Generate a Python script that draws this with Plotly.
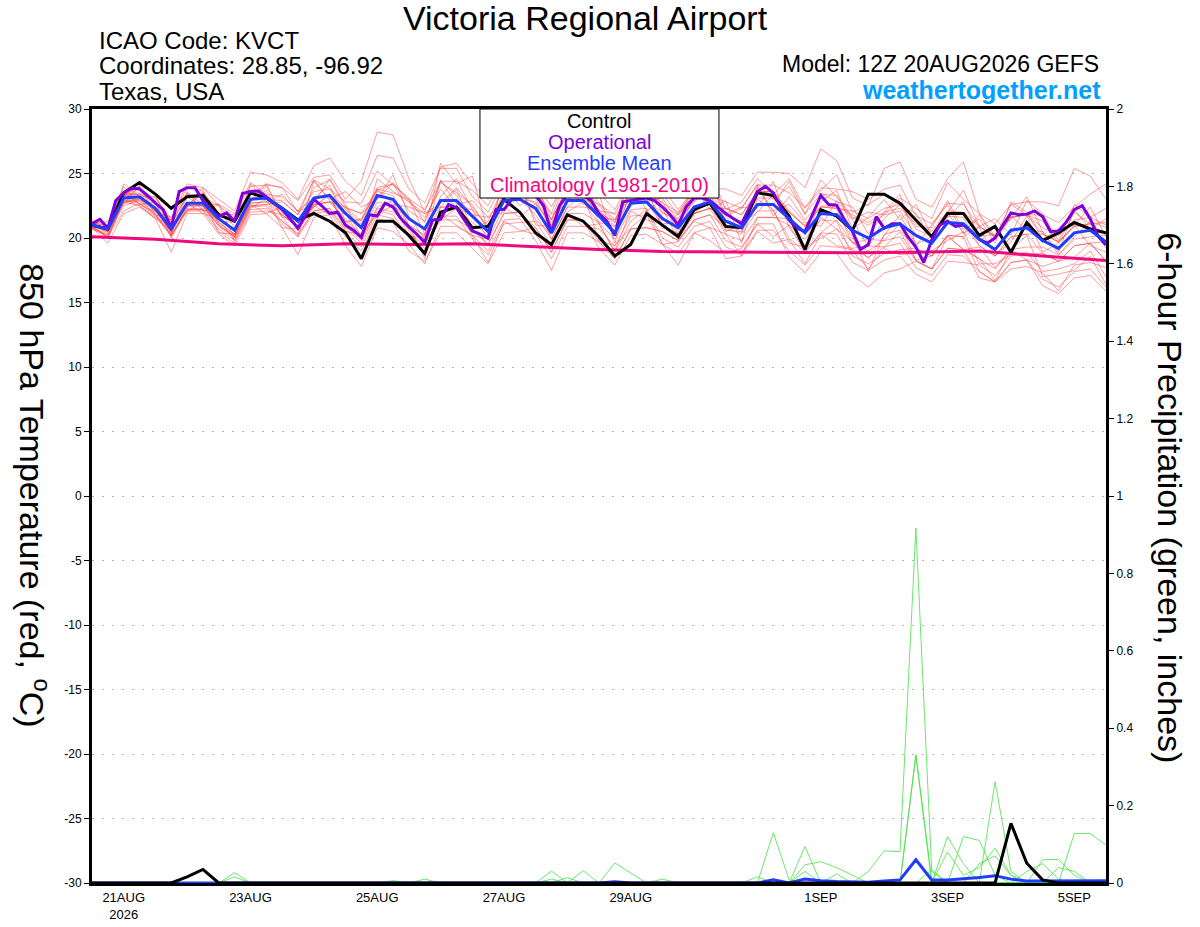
import pandas as pd
import plotly.graph_objs as go

# forecast run: GEFS 12Z 20AUG2026, 6-hourly out to 384 h (operational every 3 h)
run_start = "2026-08-20 12:00"
n_steps = 65
n_op_steps = 129
n_clim_days = 17

tick_dates = ["2026-08-21", "2026-08-23", "2026-08-25", "2026-08-27",
              "2026-08-29", "2026-09-01", "2026-09-03", "2026-09-05"]
tick_labels = ["21AUG<br>2026", "23AUG", "25AUG", "27AUG", "29AUG", "1SEP", "3SEP", "5SEP"]

temp_ticks = [-30, -25, -20, -15, -10, -5, 0, 5, 10, 15, 20, 25, 30]
temp_tick_text = ["-30", "-25", "-20", "-15", "-10", "-5", "0", "5", "10", "15", "20", "25", "30"]

# 850 hPa temperature (C)
control_t = [21.0, 20.7, 23.5, 24.3, 23.4, 22.3, 23.2, 23.3, 21.8, 21.3, 23.5, 23.1, 22.3,
             21.4, 21.9, 21.3, 20.4, 18.4, 21.3, 21.3, 20.2, 18.8, 22.0, 22.4, 20.8, 20.9,
             23.0, 22.0, 20.4, 19.5, 21.8, 21.3, 20.1, 18.6, 19.5, 21.9, 21.0, 20.1, 22.2,
             22.7, 20.9, 20.8, 23.5, 23.3, 21.7, 19.1, 22.2, 21.7, 20.6, 23.4, 23.4, 22.7,
             21.4, 20.1, 21.9, 21.9, 20.2, 20.9, 18.9, 21.2, 19.8, 20.4, 21.2, 20.7, 20.4]

operational_t = [21.1, 21.45, 20.75, 22.9, 23.5, 23.85, 23.8, 23.3, 22.7, 22.2, 20.75, 23.6, 23.9,
                 23.9, 22.9, 22.2, 21.65, 21.95, 21.3, 23.45, 23.6, 23.65, 23.2, 22.7, 22.2, 21.5,
                 20.75, 21.8, 23.0, 22.5, 21.9, 22.0, 21.0, 20.6, 20.05, 21.8, 21.7, 22.7, 22.4,
                 21.5, 20.85, 20.3, 19.65, 21.4, 21.45, 22.6, 22.35, 21.4, 20.55, 20.3, 20.0, 22.2,
                 22.2, 23.0, 23.4, 23.5, 23.3, 22.5, 20.4, 22.5, 23.3, 23.5, 23.3, 22.9, 21.9,
                 21.3, 20.2, 22.8, 22.9, 23.0, 23.1, 22.9, 22.4, 21.8, 21.0, 22.4, 23.1, 23.1,
                 22.9, 22.4, 21.9, 21.5, 21.1, 22.4, 23.6, 24.0, 23.5, 22.3, 21.4, 20.75, 20.5,
                 21.9, 23.3, 22.6, 22.55, 21.4, 20.5, 19.1, 19.5, 21.65, 20.75, 21.1, 21.1, 20.1,
                 19.3, 18.1, 19.85, 21.0, 21.3, 20.9, 21.0, 20.5, 19.9, 19.6, 20.0, 21.0, 21.95,
                 21.8, 21.85, 22.1, 21.65, 20.5, 20.55, 21.25, 22.2, 22.5, 21.5, 20.15, 19.45]

ens_mean_t = [21.0, 20.7, 23.1, 23.2, 22.3, 20.7, 22.7, 22.7, 21.5, 20.6, 23.0, 23.1, 22.3,
              21.3, 23.1, 23.3, 21.9, 20.8, 23.3, 23.0, 21.5, 20.7, 22.9, 22.9, 21.7, 20.5,
              22.9, 23.0, 22.3, 20.4, 22.9, 22.9, 21.7, 20.4, 22.7, 22.8, 21.5, 20.8, 22.4,
              22.8, 21.3, 20.8, 22.6, 22.6, 21.5, 20.4, 21.9, 21.8, 20.6, 20.0, 20.8, 21.1,
              20.2, 19.6, 21.2, 21.1, 19.9, 19.1, 20.6, 20.8, 19.8, 19.2, 20.4, 20.6, 19.7]

climatology_t = [20.1, 19.9, 19.55, 19.4, 19.55, 19.5, 19.55, 19.3, 19.1,
                 18.95, 18.9, 18.85, 18.85, 18.9, 19.0, 18.6, 18.25]

member_t = [
    [21.2, 20.9, 23.3, 23.4, 22.9, 21.1, 23.4, 23.2, 22.5, 21.6, 24.0, 24.1, 23.9, 22.9, 24.7, 24.9,
     23.0, 24.4, 28.2, 28.0, 24.6, 22.0, 25.4, 25.4, 23.2, 22.0, 24.4, 24.5, 23.3, 21.4, 23.9, 23.9,
     22.5, 21.2, 23.5, 23.6, 22.7, 22.0, 23.6, 24.0, 22.3, 21.8, 23.6, 23.6, 22.1, 21.0, 22.5, 22.4,
     21.8, 21.2, 22.0, 22.3, 21.1, 20.5, 22.1, 22.0, 20.9, 20.1, 21.6, 21.8, 20.8, 20.2, 21.4, 21.6, 21.0],
    [20.7, 20.2, 22.8, 22.9, 21.8, 20.2, 22.2, 22.2, 20.7, 19.8, 22.2, 22.3, 21.3, 20.3, 22.1, 22.3,
     20.4, 19.3, 21.8, 21.5, 20.3, 19.5, 21.7, 21.7, 19.9, 18.7, 21.1, 21.2, 21.3, 19.4, 21.9, 21.9,
     21.2, 19.9, 22.2, 22.3, 20.0, 19.3, 20.9, 21.3, 19.3, 18.8, 20.6, 20.6, 19.0, 17.9, 19.4, 19.3,
     19.1, 18.5, 19.3, 19.6, 17.7, 17.1, 18.7, 18.6, 17.4, 16.6, 18.1, 18.3, 16.8, 16.2, 17.4, 17.6, 16.2],
    [21.3, 21.0, 23.4, 23.5, 23.1, 21.5, 24.2, 23.9, 23.0, 22.1, 25.1, 24.9, 24.3, 23.0, 25.6, 26.2,
     24.4, 23.3, 26.4, 26.2, 23.8, 22.7, 25.5, 25.8, 24.2, 23.0, 25.4, 25.5, 24.3, 22.4, 24.9, 24.9,
     23.5, 22.2, 24.5, 24.6, 22.5, 21.8, 23.4, 23.8, 23.8, 23.3, 25.1, 25.1, 25.0, 23.9, 26.9, 26.0,
     23.1, 22.5, 25.4, 25.9, 23.0, 22.4, 24.6, 25.9, 21.9, 21.1, 22.6, 22.8, 22.8, 22.5, 25.4, 24.8, 23.0],
    [20.8, 19.6, 21.9, 22.4, 21.5, 18.9, 21.9, 21.9, 20.3, 19.4, 21.8, 21.9, 20.8, 18.7, 21.6, 21.8,
     19.4, 17.8, 20.8, 20.5, 19.5, 18.0, 20.9, 20.9, 20.2, 19.0, 21.4, 21.5, 19.8, 17.5, 20.4, 20.4,
     19.7, 18.4, 20.7, 20.8, 20.5, 19.8, 21.4, 21.8, 19.8, 19.3, 21.1, 21.1, 18.5, 17.3, 18.9, 18.8,
     17.1, 16.2, 17.3, 17.6, 18.2, 17.6, 19.2, 19.1, 16.9, 16.6, 17.6, 17.8, 17.3, 15.9, 17.9, 18.1, 17.7],
    [21.1, 21.3, 22.6, 24.1, 23.4, 20.2, 23.6, 22.1, 22.6, 21.9, 22.8, 24.2, 21.6, 20.1, 24.4, 23.0,
     23.6, 22.4, 23.0, 24.9, 21.7, 19.9, 24.5, 22.6, 22.9, 21.6, 22.0, 24.4, 21.0, 20.9, 24.2, 22.6,
     23.4, 19.6, 23.9, 23.9, 20.7, 21.9, 23.9, 22.2, 22.9, 19.6, 24.1, 21.7, 23.2, 21.4, 22.8, 23.7,
     20.7, 21.6, 23.0, 21.4, 22.6, 20.2, 22.0, 23.7, 20.9, 21.5, 20.2, 22.9, 21.9, 19.8, 22.6, 21.6, 22.3],
    [21.0, 20.5, 22.7, 23.0, 22.1, 20.5, 22.5, 22.5, 21.0, 20.1, 22.5, 22.6, 22.8, 21.8, 23.6, 23.8,
     22.2, 21.1, 23.6, 23.3, 21.0, 18.4, 22.4, 22.4, 22.2, 21.0, 23.4, 23.5, 23.8, 21.9, 25.2, 24.4,
     22.7, 21.4, 23.7, 23.8, 21.0, 20.3, 21.9, 22.3, 20.3, 18.6, 21.6, 21.6, 21.5, 20.4, 21.9, 21.8,
     20.1, 17.4, 20.3, 20.6, 19.2, 18.6, 20.2, 20.1, 20.9, 20.1, 21.6, 21.8, 20.3, 19.7, 20.9, 21.1, 19.2],
    [21.2, 20.9, 23.3, 23.4, 22.8, 21.2, 23.2, 23.2, 21.2, 20.3, 22.7, 22.8, 21.8, 20.8, 22.6, 22.8,
     22.4, 21.3, 23.8, 23.5, 23.0, 22.2, 24.4, 24.4, 23.7, 22.5, 24.9, 25.0, 23.3, 21.4, 23.9, 23.9,
     21.7, 20.4, 22.7, 22.8, 22.0, 21.3, 22.9, 23.3, 22.8, 22.3, 24.1, 24.1, 23.5, 22.4, 23.9, 23.8,
     23.6, 23.0, 23.8, 24.1, 21.7, 21.1, 22.7, 22.6, 20.9, 20.1, 21.6, 21.8, 21.8, 21.2, 22.4, 23.4, 24.2],
    [20.9, 20.0, 22.8, 22.5, 21.6, 20.9, 22.0, 22.9, 20.4, 20.3, 22.6, 21.9, 22.4, 20.6, 22.4, 23.4,
     20.5, 20.3, 21.9, 22.5, 20.6, 18.8, 21.8, 21.0, 20.2, 19.9, 22.4, 21.6, 22.7, 19.9, 22.4, 23.4,
     19.8, 19.4, 20.8, 21.8, 19.5, 17.9, 20.4, 19.8, 18.8, 19.2, 21.1, 20.1, 21.0, 18.9, 20.4, 21.4,
     19.6, 19.9, 19.8, 21.1, 18.3, 18.6, 20.2, 19.1, 18.4, 16.7, 19.1, 18.3, 17.8, 18.2, 18.5, 19.6, 18.2],
    [20.8, 20.9, 24.0, 22.6, 22.0, 21.6, 23.9, 23.7, 21.0, 20.2, 24.2, 22.8, 23.4, 22.0, 22.7, 24.6,
     22.6, 20.0, 24.6, 23.6, 22.8, 21.9, 22.4, 23.8, 20.6, 21.3, 24.1, 22.5, 23.6, 21.8, 22.7, 24.3,
     22.0, 21.2, 24.6, 22.1, 22.9, 20.3, 23.3, 24.0, 21.9, 22.4, 22.3, 24.4, 20.8, 19.2, 23.5, 22.8,
     22.4, 20.3, 22.0, 23.4, 19.4, 21.0, 22.6, 20.3, 21.8, 19.9, 21.5, 23.2, 20.5, 18.9, 22.2, 20.7, 21.5],
    [20.8, 20.2, 23.1, 22.7, 21.8, 20.2, 22.2, 22.2, 21.5, 20.6, 23.0, 23.1, 21.8, 20.8, 22.6, 22.8,
     21.4, 20.3, 22.8, 22.5, 21.5, 20.7, 22.9, 22.9, 20.7, 19.5, 21.9, 22.0, 20.8, 18.9, 21.4, 21.4,
     19.7, 18.4, 20.7, 20.8, 20.5, 19.8, 21.4, 21.8, 20.8, 20.3, 22.1, 22.1, 20.0, 18.9, 20.4, 20.3,
     18.1, 17.5, 18.3, 18.6, 17.2, 16.6, 18.2, 18.1, 17.9, 17.1, 18.6, 18.8, 18.8, 18.2, 19.4, 19.6, 18.2],
    [21.4, 20.5, 23.3, 24.0, 21.8, 21.4, 22.4, 23.9, 22.5, 20.0, 23.6, 23.0, 22.9, 21.8, 24.5, 22.9,
     21.2, 21.5, 23.9, 24.2, 23.0, 20.3, 23.2, 24.6, 22.2, 19.8, 24.8, 23.4, 22.6, 21.2, 22.9, 23.9,
     21.2, 20.9, 22.4, 24.1, 22.3, 19.9, 21.8, 23.5, 20.6, 20.5, 23.9, 22.1, 22.6, 21.2, 20.9, 22.9,
     21.4, 19.3, 21.5, 22.6, 20.9, 20.8, 22.9, 20.6, 21.5, 19.6, 22.8, 22.0, 19.9, 20.7, 21.0, 22.4, 20.1],
    [20.7, 20.1, 22.1, 22.7, 21.7, 20.1, 22.1, 22.1, 20.5, 19.6, 22.0, 22.1, 21.8, 20.8, 22.6, 22.8,
     21.9, 20.8, 23.3, 23.0, 21.0, 20.2, 25.8, 24.2, 24.8, 20.5, 22.9, 23.0, 21.8, 19.9, 22.4, 22.4,
     22.2, 20.9, 23.2, 23.3, 23.4, 21.8, 23.4, 23.8, 21.3, 20.8, 22.6, 22.6, 24.4, 21.9, 23.4, 23.3,
     21.6, 21.0, 21.8, 22.1, 20.2, 19.6, 21.2, 21.1, 19.4, 18.6, 20.1, 20.3, 18.8, 18.2, 19.4, 19.6, 19.7],
    [21.0, 20.8, 23.0, 23.9, 22.8, 20.0, 22.4, 23.5, 21.9, 21.4, 22.9, 24.0, 22.0, 21.0, 23.9, 24.5,
     22.4, 21.9, 23.0, 24.3, 22.8, 21.6, 23.8, 22.3, 21.2, 20.2, 23.6, 24.2, 23.5, 21.0, 24.0, 23.0,
     22.6, 21.8, 23.0, 24.5, 21.9, 21.5, 23.9, 22.5, 20.5, 21.1, 22.0, 23.4, 21.8, 19.3, 21.6, 20.7,
     19.7, 18.4, 20.2, 21.8, 19.5, 20.1, 21.9, 20.4, 20.8, 18.6, 19.7, 21.7, 18.9, 19.6, 21.0, 19.4, 18.9],
    [21.0, 20.0, 23.0, 22.5, 21.5, 20.6, 22.7, 21.9, 21.5, 19.8, 22.3, 23.1, 20.8, 20.7, 22.5, 21.8,
     21.9, 19.9, 22.4, 22.9, 20.1, 20.1, 21.4, 22.3, 20.2, 18.1, 21.3, 20.6, 20.3, 19.3, 21.9, 20.9,
     21.1, 18.9, 21.3, 22.2, 19.5, 19.7, 21.3, 20.8, 18.4, 18.6, 20.5, 19.6, 19.9, 18.0, 20.3, 19.4,
     19.2, 19.4, 19.3, 20.5, 18.3, 17.6, 20.1, 19.1, 19.3, 17.7, 19.1, 20.2, 17.0, 17.2, 17.5, 18.6, 16.4],
    [21.2, 20.6, 24.2, 23.2, 23.2, 21.3, 22.5, 23.6, 21.9, 21.8, 24.3, 23.4, 23.2, 22.1, 23.1, 24.1,
     21.3, 21.4, 23.8, 22.6, 22.4, 21.9, 22.7, 23.9, 22.4, 20.8, 24.2, 23.5, 23.1, 20.5, 23.0, 24.1,
     22.1, 21.9, 24.2, 23.1, 23.9, 22.2, 23.8, 25.2, 22.2, 22.8, 24.6, 23.4, 24.6, 22.3, 23.7, 24.9,
     22.0, 22.6, 23.4, 22.5, 21.9, 20.0, 21.6, 22.8, 20.1, 20.3, 21.7, 20.6, 20.5, 18.7, 20.1, 21.3, 20.8],
    [20.9, 20.5, 22.8, 23.1, 22.1, 20.5, 22.5, 22.5, 21.2, 20.3, 22.7, 22.8, 22.3, 21.3, 23.1, 23.3,
     20.9, 19.8, 22.3, 22.0, 21.0, 20.2, 22.4, 22.4, 21.7, 20.5, 22.9, 23.0, 22.8, 20.9, 23.4, 23.4,
     21.7, 20.4, 22.7, 22.8, 21.0, 20.3, 21.9, 22.3, 22.3, 21.8, 23.6, 23.6, 22.0, 20.9, 22.4, 22.3,
     19.6, 19.0, 19.8, 20.1, 18.2, 17.6, 19.2, 19.1, 18.4, 17.6, 19.1, 19.3, 19.3, 18.7, 19.9, 20.1, 20.2],
    [21.2, 20.5, 23.6, 22.6, 22.8, 20.4, 23.2, 22.4, 21.3, 21.2, 22.8, 23.7, 21.6, 21.4, 22.4, 23.4,
     22.3, 21.9, 23.7, 24.2, 22.1, 21.3, 24.3, 23.5, 22.6, 20.6, 23.0, 23.9, 21.4, 20.3, 22.0, 22.8,
     21.1, 19.0, 22.1, 21.4, 21.1, 21.2, 22.0, 23.2, 21.7, 20.4, 23.0, 22.2, 19.6, 19.3, 20.0, 20.7,
     19.0, 17.6, 19.2, 18.7, 18.8, 19.0, 19.8, 20.5, 18.0, 18.0, 18.7, 18.9, 17.4, 17.6, 18.0, 19.0, 17.0],
    [20.8, 20.3, 22.5, 22.9, 21.9, 20.3, 22.3, 22.3, 21.0, 20.1, 22.5, 22.6, 21.3, 20.3, 22.1, 22.3,
     20.7, 19.6, 22.1, 21.8, 20.0, 19.2, 21.4, 21.4, 20.7, 19.5, 21.9, 22.0, 20.3, 18.4, 20.9, 20.9,
     20.7, 19.4, 21.7, 21.8, 21.0, 20.3, 21.9, 22.3, 21.8, 21.3, 23.1, 23.1, 22.0, 20.9, 22.4, 22.3,
     22.1, 21.5, 22.3, 22.6, 20.7, 20.1, 21.7, 21.6, 19.4, 18.6, 20.1, 20.3, 20.3, 19.7, 20.9, 21.1, 21.2],
    [20.9, 20.8, 23.2, 24.0, 22.1, 21.4, 23.5, 22.6, 22.6, 20.8, 23.3, 24.2, 23.9, 22.0, 24.5, 23.8,
     22.8, 22.7, 25.2, 24.1, 23.1, 21.2, 24.4, 23.3, 21.8, 21.6, 23.0, 24.1, 24.2, 21.4, 24.9, 23.8,
     21.7, 21.4, 23.6, 22.8, 23.1, 21.3, 22.8, 24.4, 21.7, 22.3, 24.2, 23.0, 24.0, 21.8, 24.5, 23.2,
     21.5, 22.0, 21.8, 23.1, 22.3, 21.5, 24.3, 23.0, 21.9, 20.1, 22.6, 21.8, 21.3, 19.6, 22.0, 21.1, 20.3],
    [21.0, 20.4, 22.9, 23.0, 22.1, 20.5, 22.5, 22.5, 20.9, 20.0, 22.4, 22.5, 21.1, 20.1, 21.9, 22.1,
     20.1, 19.0, 21.5, 21.2, 19.0, 18.2, 20.4, 20.4, 19.2, 18.0, 20.4, 20.5, 20.8, 18.9, 21.4, 21.4,
     19.2, 17.9, 20.2, 20.3, 19.5, 18.8, 20.4, 20.8, 20.3, 19.8, 21.6, 21.6, 21.0, 19.9, 21.4, 21.3,
     18.6, 18.0, 18.8, 19.1, 19.2, 18.6, 20.2, 20.1, 17.4, 16.6, 18.1, 18.3, 16.3, 15.7, 16.9, 17.1, 15.9],
]

# 6-hour precipitation (inches)
control_p = [0, 0, 0, 0, 0, 0, 0.016, 0.035, 0, 0, 0, 0, 0,
             0, 0, 0, 0, 0, 0, 0, 0, 0, 0, 0, 0, 0,
             0, 0, 0, 0, 0, 0, 0, 0, 0, 0, 0, 0, 0,
             0, 0, 0, 0, 0, 0, 0, 0, 0, 0, 0, 0, 0,
             0, 0, 0, 0, 0, 0, 0.154, 0.051, 0.008, 0, 0, 0, 0]

ens_mean_p = [0, 0, 0, 0, 0, 0, 0, 0, 0, 0, 0, 0, 0,
              0, 0, 0, 0, 0, 0, 0, 0, 0, 0, 0, 0, 0,
              0, 0, 0, 0, 0, 0, 0, 0.003, 0, 0, 0, 0, 0,
              0, 0, 0, 0, 0.008, 0, 0.01, 0.006, 0.004, 0.003, 0.002, 0.005, 0.008,
              0.06, 0.008, 0.008, 0.011, 0.014, 0.019, 0.01, 0.005, 0.005, 0.006, 0.006, 0.006, 0.006]

member_p = [
    [0, 0, 0, 0, 0, 0, 0, 0, 0, 0.027, 0, 0, 0,
     0, 0, 0, 0, 0, 0, 0, 0, 0, 0, 0, 0, 0,
     0, 0, 0, 0, 0, 0, 0, 0, 0, 0, 0, 0, 0,
     0, 0, 0, 0, 0.13, 0.008, 0, 0, 0, 0, 0, 0, 0,
     0.33, 0.01, 0, 0, 0, 0, 0, 0, 0, 0, 0, 0, 0],
    [0, 0, 0, 0, 0, 0, 0, 0, 0, 0.016, 0, 0, 0,
     0, 0, 0, 0, 0, 0, 0, 0, 0, 0, 0, 0, 0,
     0, 0, 0, 0, 0, 0, 0, 0.052, 0.025, 0, 0, 0, 0,
     0, 0, 0, 0, 0, 0, 0, 0, 0, 0, 0.03, 0.083, 0.081,
     0.917, 0.03, 0, 0, 0, 0, 0, 0, 0, 0, 0, 0, 0],
    [0, 0, 0, 0, 0, 0, 0, 0, 0, 0, 0, 0, 0,
     0, 0, 0, 0, 0, 0, 0, 0, 0.01, 0, 0, 0, 0,
     0, 0, 0, 0, 0, 0.032, 0, 0, 0, 0, 0, 0, 0,
     0, 0, 0, 0, 0, 0, 0.094, 0, 0, 0, 0, 0, 0,
     0, 0, 0, 0, 0, 0.262, 0.03, 0, 0, 0, 0, 0, 0],
    [0, 0, 0, 0, 0, 0, 0, 0, 0, 0, 0, 0, 0,
     0, 0, 0, 0, 0, 0, 0, 0, 0, 0, 0, 0, 0,
     0, 0, 0, 0.031, 0, 0, 0, 0, 0, 0, 0, 0, 0,
     0, 0, 0, 0, 0, 0, 0.047, 0.055, 0.04, 0.02, 0, 0, 0,
     0, 0, 0.12, 0.05, 0, 0, 0, 0, 0, 0, 0, 0, 0],
    [0, 0, 0, 0, 0, 0, 0, 0, 0, 0, 0, 0, 0,
     0, 0, 0, 0, 0, 0, 0, 0, 0, 0, 0, 0, 0,
     0, 0, 0, 0, 0.014, 0, 0, 0, 0, 0, 0, 0, 0,
     0, 0, 0, 0, 0.01, 0, 0, 0, 0.023, 0, 0, 0, 0,
     0, 0, 0, 0.12, 0.11, 0.02, 0, 0, 0, 0, 0, 0, 0],
    [0, 0, 0, 0, 0, 0, 0, 0, 0, 0, 0, 0, 0,
     0, 0, 0, 0, 0, 0, 0, 0, 0, 0, 0, 0, 0,
     0, 0, 0, 0.01, 0, 0, 0, 0, 0, 0, 0, 0, 0,
     0, 0, 0, 0.016, 0, 0, 0, 0, 0, 0, 0, 0, 0,
     0, 0.034, 0, 0, 0, 0, 0, 0, 0.06, 0.061, 0.02, 0, 0],
    [0, 0, 0, 0, 0, 0, 0, 0, 0, 0, 0, 0, 0,
     0, 0, 0, 0, 0, 0, 0, 0, 0, 0, 0, 0, 0,
     0, 0, 0, 0, 0, 0, 0, 0, 0, 0, 0, 0, 0,
     0, 0, 0, 0, 0, 0, 0, 0, 0, 0, 0, 0, 0,
     0, 0, 0, 0, 0, 0, 0, 0, 0, 0, 0.128, 0.128, 0.098],
    [0, 0, 0, 0, 0, 0, 0, 0, 0, 0, 0, 0, 0,
     0, 0, 0, 0, 0, 0, 0, 0, 0, 0, 0, 0, 0,
     0, 0, 0, 0, 0, 0, 0, 0, 0, 0, 0.01, 0, 0,
     0, 0, 0, 0, 0, 0, 0, 0, 0, 0, 0, 0, 0,
     0, 0, 0.08, 0.02, 0.04, 0.09, 0.02, 0, 0, 0, 0, 0, 0],
    [0, 0, 0, 0, 0, 0, 0, 0, 0, 0, 0, 0, 0,
     0, 0, 0, 0, 0, 0, 0.006, 0, 0, 0, 0, 0, 0,
     0, 0, 0, 0, 0, 0, 0, 0, 0, 0, 0, 0, 0,
     0, 0, 0, 0, 0, 0, 0.03, 0, 0, 0, 0, 0, 0,
     0, 0, 0, 0, 0, 0, 0, 0.03, 0.05, 0.01, 0, 0, 0],
    [0, 0, 0, 0, 0, 0, 0, 0, 0, 0, 0, 0, 0,
     0, 0, 0, 0, 0, 0, 0, 0, 0, 0, 0, 0, 0,
     0, 0, 0, 0, 0, 0, 0, 0, 0, 0, 0, 0, 0,
     0, 0, 0, 0, 0, 0, 0, 0, 0, 0, 0, 0, 0,
     0.331, 0, 0, 0, 0.05, 0.07, 0.02, 0, 0, 0.04, 0.03, 0, 0],
]

times = pd.date_range(run_start, periods=n_steps, freq="6h")
op_times = pd.date_range(run_start, periods=n_op_steps, freq="3h")
clim_times = pd.date_range(run_start, periods=n_clim_days, freq="D")

FONT = "Liberation Sans, Arial, sans-serif"
PURPLE = "#7d00dc"
BLUE = "#1f3dff"
PINK = "#f0087f"

data = []

for m in member_t:
	data.append(go.Scatter(x=times, y=m, mode="lines", yaxis="y",
		line=dict(color="rgba(255,50,50,0.6)", width=0.8), hoverinfo="skip"))

for p in member_p:
	data.append(go.Scatter(x=times, y=p, mode="lines", yaxis="y2",
		line=dict(color="rgb(70,225,70)", width=0.8), hoverinfo="skip"))

data.append(go.Scatter(x=clim_times, y=climatology_t, mode="lines", yaxis="y",
	line=dict(color=PINK, width=3)))
data.append(go.Scatter(x=times, y=control_t, mode="lines", yaxis="y",
	line=dict(color="black", width=3)))
data.append(go.Scatter(x=op_times, y=operational_t, mode="lines", yaxis="y",
	line=dict(color=PURPLE, width=3)))
data.append(go.Scatter(x=times, y=ens_mean_t, mode="lines", yaxis="y",
	line=dict(color=BLUE, width=3)))

# mean rain first, control on top of it (the zero line reads black)
data.append(go.Scatter(x=times, y=ens_mean_p, mode="lines", yaxis="y2",
	line=dict(color=BLUE, width=3)))
data.append(go.Scatter(x=times, y=control_p, mode="lines", yaxis="y2",
	line=dict(color="black", width=3)))

layout = go.Layout(
	width=1200,
	height=927,
	margin=dict(l=92, r=94, t=109, b=44),
	paper_bgcolor="white",
	plot_bgcolor="white",
	showlegend=False,
	font=dict(family=FONT, color="black", size=13),
	xaxis=dict(
		type="date",
		range=[times[0], times[-1]],
		tickvals=tick_dates,
		ticktext=tick_labels,
		ticks="",
		showgrid=False,
		showline=True,
		linecolor="black",
		linewidth=3,
		mirror=True,
		automargin=False,
		tickfont=dict(size=13),
	),
	yaxis=dict(
		range=[-30, 30],
		tickvals=temp_ticks,
		ticktext=temp_tick_text,
		ticks="outside",
		ticklen=5,
		tickcolor="black",
		showline=True,
		linecolor="black",
		linewidth=3,
		showgrid=True,
		gridcolor="#b4b4b4",
		griddash="2px,8px",
		gridwidth=1,
		zeroline=False,
		automargin=False,
		tickfont=dict(size=12),
	),
	yaxis2=dict(
		overlaying="y",
		side="right",
		range=[0, 2],
		tickmode="linear",
		tick0=0,
		dtick=0.2,
		ticks="outside",
		ticklen=5,
		tickcolor="black",
		showline=True,
		linecolor="black",
		linewidth=3,
		showgrid=False,
		zeroline=False,
		automargin=False,
		tickfont=dict(size=12),
	),
)

fig = go.Figure(data=data, layout=layout)

# legend box drawn over the lines, as in the original
fig.add_shape(type="rect", xref="paper", yref="paper", x0=0.3826, x1=0.6183, y0=0.885, y1=1.0,
	fillcolor="white", line=dict(color="black", width=1), layer="above")

legend_rows = [("Control", "black", 0.9845), ("Operational", PURPLE, 0.957),
	("Ensemble Mean", BLUE, 0.930), ("Climatology (1981-2010)", PINK, 0.902)]
for txt, col, yy in legend_rows:
	fig.add_annotation(text=txt, x=0.5, y=yy, xref="paper", yref="paper", showarrow=False,
		font=dict(family=FONT, size=20, color=col), xanchor="center", yanchor="middle")

header = [
	("Victoria Regional Airport", 0.487, 1.1176, "center", 34, "black", False),
	("ICAO Code: KVCT", 0.0059, 1.089, "left", 24, "black", False),
	("Coordinates: 28.85, -96.92", 0.0059, 1.0556, "left", 24, "black", False),
	("Texas, USA", 0.0059, 1.022, "left", 24, "black", False),
	("Model: 12Z 20AUG2026 GEFS", 0.994, 1.058, "right", 23, "black", False),
	("weathertogether.net", 0.996, 1.0245, "right", 25, "#00a0ff", True),
]
for txt, xx, yy, anc, sz, col, bold in header:
	if bold:
		txt = "<b>" + txt + "</b>"
	fig.add_annotation(text=txt, x=xx, y=yy, xref="paper", yref="paper", showarrow=False,
		font=dict(family=FONT, size=sz, color=col), xanchor=anc, yanchor="middle", borderpad=0)

fig.add_annotation(text="850 hPa Temperature (red, <sup>o</sup>C)", x=-0.0562, y=0.501,
	xref="paper", yref="paper", showarrow=False, textangle=90,
	font=dict(family=FONT, size=34, color="black"), xanchor="center", yanchor="middle")
fig.add_annotation(text="6-hour Precipitation (green, inches)", x=1.0631, y=0.497,
	xref="paper", yref="paper", showarrow=False, textangle=90,
	font=dict(family=FONT, size=34, color="black"), xanchor="center", yanchor="middle")

# page body margin off, so the figure sits at the window's top-left corner
fig.write_html("out.html", config={"displayModeBar": False},
	post_script="document.body.style.margin='0';document.body.style.overflow='hidden';")
